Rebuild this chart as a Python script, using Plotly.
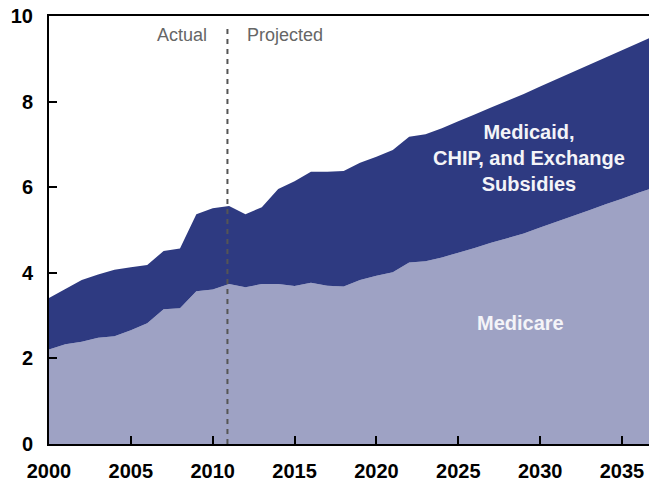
import plotly.graph_objects as go

years = list(range(2000, 2038))
medicare = [2.21, 2.33, 2.39, 2.48, 2.52, 2.66, 2.82, 3.15, 3.17, 3.57,
            3.61, 3.74, 3.66, 3.74, 3.74, 3.69, 3.77, 3.70, 3.68, 3.83,
            3.93, 4.01, 4.24, 4.27, 4.36, 4.47, 4.58, 4.70, 4.81, 4.92,
            5.06, 5.19, 5.33, 5.46, 5.60, 5.73, 5.87, 6.00]
medicaid_chip_exchange = [1.20, 1.29, 1.44, 1.48, 1.55, 1.47, 1.36, 1.36, 1.40, 1.80,
                          1.90, 1.82, 1.71, 1.79, 2.22, 2.45, 2.59, 2.66, 2.70, 2.74,
                          2.78, 2.86, 2.94, 2.97, 3.02, 3.07, 3.12, 3.16, 3.21, 3.26,
                          3.29, 3.33, 3.36, 3.40, 3.43, 3.47, 3.50, 3.54]
x_ticks = [2000, 2005, 2010, 2015, 2020, 2025, 2030, 2035]
y_ticks = [0, 2, 4, 6, 8, 10]
split_year = 2011

NAVY = "#2e3a81"
LIGHT = "#9ea2c4"
FONT = "Liberation Sans, Arial, sans-serif"

fig = go.Figure()
fig.add_trace(go.Scatter(x=years, y=medicare, stackgroup="one", mode="none",
                         fillcolor=LIGHT, line=dict(width=0), name="Medicare"))
fig.add_trace(go.Scatter(x=years, y=medicaid_chip_exchange, stackgroup="one", mode="none",
                         fillcolor=NAVY, line=dict(width=0),
                         name="Medicaid, CHIP, and Exchange Subsidies"))

fig.add_shape(type="line", x0=split_year - 0.1, x1=split_year - 0.1, y0=0, y1=9.74,
              xref="x", yref="y", layer="above",
              line=dict(color="#555555", width=2, dash="5px,5px"))

fig.add_annotation(x=2008.1, y=9.56, text="Actual", showarrow=False,
                   font=dict(family=FONT, size=18, color="#666666"))
fig.add_annotation(x=2014.4, y=9.56, text="Projected", showarrow=False,
                   font=dict(family=FONT, size=18, color="#666666"))
fig.add_annotation(x=2029.3, y=6.68, text="<b>Medicaid,<br>CHIP, and Exchange<br>Subsidies</b>",
                   showarrow=False, align="center",
                   font=dict(family=FONT, size=20, color="#f4f4f8"))
fig.add_annotation(x=2028.8, y=2.83, text="<b>Medicare</b>", showarrow=False,
                   font=dict(family=FONT, size=20, color="#f4f4f8"))

fig.update_layout(
    width=649, height=483,
    margin=dict(l=49, r=0, t=16, b=39),
    paper_bgcolor="white", plot_bgcolor="white",
    showlegend=False,
    font=dict(family=FONT, color="black"),
)
fig.update_xaxes(range=[2000, 2036.65], tickvals=x_ticks,
                 ticktext=[f"<b>{t}</b>" for t in x_ticks],
                 ticks="inside", ticklen=8, tickwidth=1.5, tickcolor="black",
                 showline=True, linecolor="black", linewidth=2, mirror=True,
                 showgrid=False, zeroline=False, automargin=False,
                 ticklabeloverflow="allow",
                 tickfont=dict(family=FONT, size=20, color="black"),
                 ticklabelstandoff=8)
fig.update_yaxes(range=[0, 10], tickvals=y_ticks,
                 ticktext=[f"<b>{t}</b>" for t in y_ticks],
                 ticks="inside", ticklen=8, tickwidth=1.5, tickcolor="black",
                 showline=True, linecolor="black", linewidth=2, mirror=False,
                 showgrid=False, zeroline=False, automargin=False,
                 ticklabeloverflow="allow",
                 tickfont=dict(family=FONT, size=20, color="black"),
                 ticklabelstandoff=10)

fig.write_html(
    "out.html",
    config={"displayModeBar": False},
    post_script="document.body.style.margin='0';document.body.style.overflow='hidden';",
)
